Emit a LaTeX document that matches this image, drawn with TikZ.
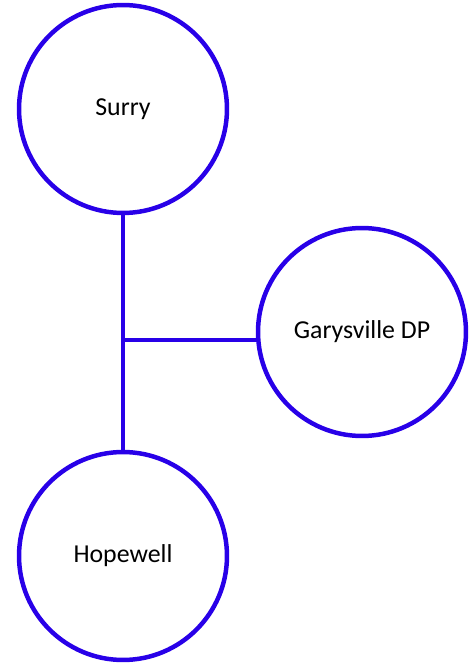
\documentclass[tikz,border=0pt]{standalone}
\usepackage{fontspec}
\setmainfont{Carlito}
\definecolor{linkblue}{RGB}{40,0,232}
\begin{document}
\begin{tikzpicture}[x=0.02cm,y=0.02cm,
  station/.style={draw=linkblue,circle,line width=2.55pt,minimum size=4.16cm,inner sep=0pt,font=\fontsize{14.7}{17}\selectfont},
  link/.style={draw=linkblue,line width=2.55pt}]
\useasboundingbox (0,0) rectangle (475,663);
\node[station] (Surry) at (123,554) {Surry};
\node[station] (Gary) at (362,331) {Garysville DP};
\node[station] (Hope) at (123,107) {Hopewell};
\coordinate (J) at (123,323);
\draw[link] (Surry) -- (Hope);
\draw[link] (J) -- (J -| Gary.west);
\end{tikzpicture}
\end{document}
